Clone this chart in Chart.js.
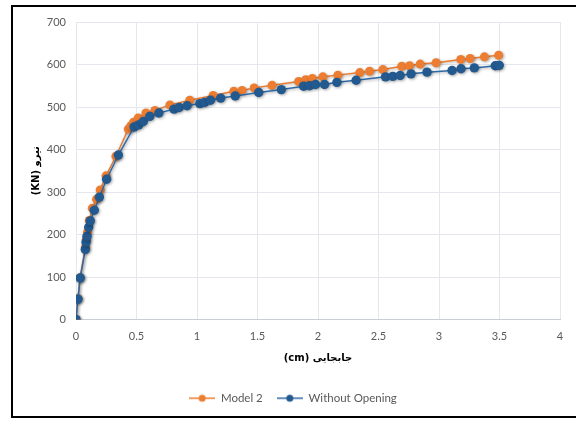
<!DOCTYPE html>
<html>
<head>
<meta charset="utf-8">
<script src="https://cdn.jsdelivr.net/npm/chart.js@4"></script>
<style>
    html, body { margin: 0; padding: 0; background: #fff; overflow: hidden; }
    #wrap { position: relative; width: 576px; height: 421px; }
    #frame {
        position: absolute; left: 11px; top: 5px; width: 600px; height: 409px;
        border: 2px solid #000; pointer-events: none;
    }
    canvas { position: absolute; left: 0; top: 0; }
</style>
</head>
<body>
<div id="wrap">
    <canvas id="curve" width="576" height="421"></canvas>
    <div id="frame"></div>
</div>
<script>
// displacement (cm) / force (KN)
const model2X = [0, 0.016, 0.033, 0.078, 0.085, 0.095, 0.11, 0.135, 0.17, 0.2, 0.248, 0.33,
    0.432, 0.454, 0.476, 0.514, 0.578, 0.652, 0.776, 0.94, 1.133, 1.304, 1.372, 1.472,
    1.62, 1.84, 1.898, 1.953, 2.04, 2.164, 2.345, 2.426, 2.536, 2.692, 2.756, 2.844,
    2.976, 3.18, 3.257, 3.375, 3.493];
const model2Y = [0, 49, 98, 170, 188, 205, 233, 262, 283, 305, 338, 384,
    448, 456, 464, 474, 486, 492, 505, 516, 527, 537, 539, 545,
    551, 560, 564, 567, 571, 575, 581, 584, 588, 596, 597, 601,
    604, 612, 614, 618, 622];

const noOpeningX = [0, 0.016, 0.035, 0.077, 0.083, 0.091, 0.105, 0.118, 0.151, 0.193, 0.253, 0.35,
    0.48, 0.518, 0.556, 0.61, 0.685, 0.81, 0.853, 0.918, 1.023, 1.064, 1.111, 1.196,
    1.316, 1.51, 1.697, 1.881, 1.93, 1.98, 2.054, 2.156, 2.315, 2.558, 2.618, 2.679,
    2.769, 2.901, 3.108, 3.182, 3.292, 3.465, 3.498];
const noOpeningY = [0, 48, 98, 165, 182, 196, 217, 232, 257, 288, 330, 387,
    453, 458, 466, 478, 486, 495, 499, 503, 508, 511, 516, 521,
    526, 534, 541, 549, 550, 553, 553, 558, 563, 571, 572, 574,
    578, 582, 586, 590, 592, 597, 598];

const seriesNames = ['Model 2', 'Without Opening'];
const xTitle = '(cm) جابجایی';
const yTitle = '(KN) نیرو';

const orange = '#ED7D31', blue = '#22598F', blueLine = '#2F6AA6';
const tickFont = { family: 'Lato, "DejaVu Sans", sans-serif', size: 11 };
const titleFont = { family: '"DejaVu Sans", Lato, sans-serif', size: 10, weight: 'bold' };

function toPoints(xs, ys) {
    return xs.map((x, i) => ({ x: x, y: ys[i] }));
}

function legendMark(lineColor, dotColor) {
    const cv = document.createElement('canvas');
    cv.width = 26; cv.height = 10;
    const g = cv.getContext('2d');
    g.strokeStyle = lineColor; g.lineWidth = 1.5;
    g.beginPath(); g.moveTo(0, 5); g.lineTo(26, 5); g.stroke();
    g.fillStyle = dotColor;
    g.beginPath(); g.arc(13, 5, 3.5, 0, Math.PI * 2); g.fill();
    return cv;
}

const markShadow = {
    id: 'markShadow',
    beforeDatasetsDraw(chart) {
        const ctx = chart.ctx;
        ctx.save();
        ctx.shadowColor = 'rgba(0,0,0,0.35)';
        ctx.shadowBlur = 3;
        ctx.shadowOffsetX = 1;
        ctx.shadowOffsetY = 1;
    },
    afterDatasetsDraw(chart) {
        chart.ctx.restore();
    }
};

const marks = [legendMark(orange, orange), legendMark(blueLine, blue)];

new Chart(document.getElementById('curve'), {
    type: 'scatter',
    plugins: [markShadow],
    data: {
        datasets: [{
            label: seriesNames[0],
            data: toPoints(model2X, model2Y),
            showLine: true,
            borderColor: orange,
            backgroundColor: orange,
            borderWidth: 1.5,
            pointRadius: 4.5,
            pointBorderWidth: 0,
            order: 2
        }, {
            label: seriesNames[1],
            data: toPoints(noOpeningX, noOpeningY),
            showLine: true,
            borderColor: blueLine,
            backgroundColor: blue,
            borderWidth: 1.5,
            pointRadius: 4.7,
            pointBorderWidth: 0,
            order: 1
        }]
    },
    options: {
        responsive: false,
        animation: false,
        layout: {
            padding: { top: 22, right: 16, bottom: 7, left: 26 }
        },
        plugins: {
            tooltip: { enabled: false },
            legend: {
                position: 'bottom',
                labels: {
                    usePointStyle: true,
                    pointStyleWidth: 26,
                    padding: 14,
                    color: '#595959',
                    font: { family: 'Lato, sans-serif', size: 11.5 },
                    generateLabels(chart) {
                        return chart.data.datasets.map((ds, i) => ({
                            text: ds.label,
                            pointStyle: marks[i],
                            fontColor: '#595959',
                            lineWidth: 0,
                            datasetIndex: i
                        }));
                    }
                }
            }
        },
        scales: {
            x: {
                type: 'linear',
                min: 0,
                max: 4,
                afterFit(scale) { scale.height = 59; },
                ticks: {
                    stepSize: 0.5,
                    color: '#595959',
                    font: tickFont,
                    padding: 10,
                    callback: value => String(value)
                },
                grid: { color: '#e4e8ee', drawTicks: false },
                border: { color: '#c9ced6' },
                title: {
                    display: true,
                    text: xTitle,
                    color: '#000',
                    font: titleFont,
                    padding: { top: 4, bottom: 14 }
                }
            },
            y: {
                min: 0,
                max: 700,
                afterFit(scale) { scale.width = 50; },
                ticks: { stepSize: 100, color: '#595959', font: tickFont, padding: 10 },
                grid: { color: '#e4e8ee', drawTicks: false },
                border: { color: '#e4e8ee' },
                title: {
                    display: true,
                    text: yTitle,
                    color: '#000',
                    font: titleFont,
                    padding: { top: 4, bottom: 4 }
                }
            }
        }
    }
});
</script>
</body>
</html>
